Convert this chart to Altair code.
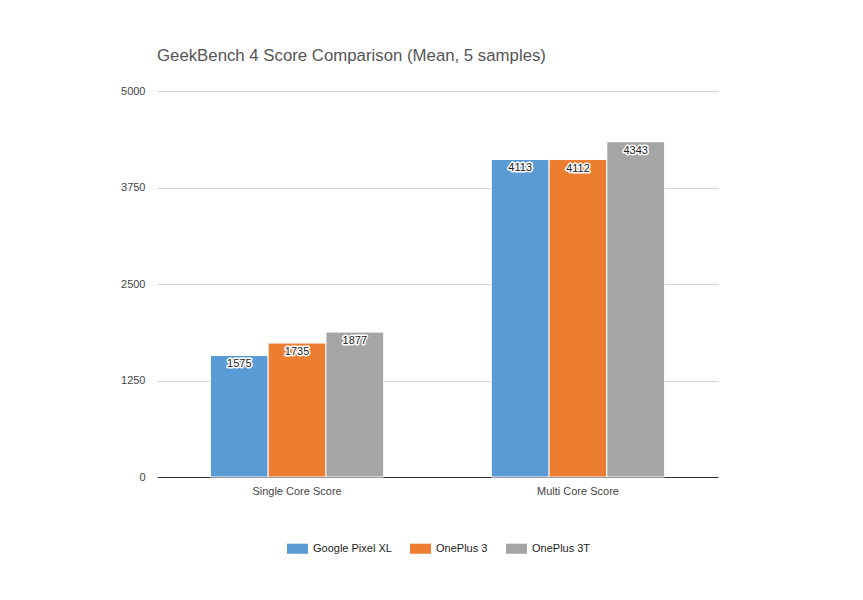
import altair as alt
import pandas as pd

categories = ["Single Core Score", "Multi Core Score"]
devices = ["Google Pixel XL", "OnePlus 3", "OnePlus 3T"]
single_core = [1575, 1735, 1877]
multi_core = [4113, 4112, 4343]
colors = ["#5B9BD5", "#ED7D31", "#A5A5A5"]

rows = []
for d, s, m in zip(devices, single_core, multi_core):
    rows.append({"category": categories[0], "device": d, "score": s})
    rows.append({"category": categories[1], "device": d, "score": m})
df = pd.DataFrame(rows)

FONT = "Liberation Sans"

x = alt.X("category:N", sort=categories, title=None,
          scale=alt.Scale(paddingInner=0.383, paddingOuter=0.19),
          axis=alt.Axis(labelAngle=0, labelColor="#444", labelFontSize=11,
                        labelFont=FONT, ticks=False, domainColor="#333",
                        labelPadding=8))
xo = alt.XOffset("device:N", sort=devices, scale=alt.Scale(paddingInner=0.0))
y = alt.Y("score:Q", title=None,
          scale=alt.Scale(domain=[0, 5000]),
          axis=alt.Axis(values=[0, 1250, 2500, 3750, 5000], format="d", labelColor="#444",
                        labelFontSize=11, labelFont=FONT, ticks=False,
                        domain=False, gridColor="#d6d6d6", labelPadding=12))

base = alt.Chart(df)

bars = base.mark_bar(stroke="white", strokeWidth=1).encode(
    x=x, xOffset=xo, y=y,
    color=alt.Color("device:N", sort=devices,
                    scale=alt.Scale(domain=devices, range=colors),
                    legend=alt.Legend(title=None, orient="none", direction="horizontal",
                                      legendX=130, legendY=447,
                                      symbolType="M-1,-0.48H1V0.48H-1Z",
                                      symbolSize=441, symbolStrokeWidth=0,
                                      labelFont=FONT, labelFontSize=11, labelColor="#222",
                                      labelOffset=5, columnPadding=18, symbolOpacity=1)),
)

halo = base.mark_text(baseline="top", dy=3, fontSize=11, font=FONT,
                      stroke="white", strokeWidth=3, strokeJoin="round", color="white").encode(
    x=x, xOffset=xo, y=y, text="score:Q")
labels = base.mark_text(baseline="top", dy=3, fontSize=11, font=FONT, color="#222").encode(
    x=x, xOffset=xo, y=y, text="score:Q")

chart = alt.layer(bars, halo, labels).properties(
    width=561, height=386,
    autosize=alt.AutoSizeParams(type="none"),
    padding={"left": 149, "top": 83, "right": 130, "bottom": 100},
    title=alt.TitleParams("GeekBench 4 Score Comparison (Mean, 5 samples)",
                          anchor="start", frame="group", font=FONT, fontSize=16.8,
                          fontWeight="normal", color="#555", offset=20),
).configure_view(stroke=None)

chart.save("out.html", embed_options={"renderer": "svg", "actions": False})
